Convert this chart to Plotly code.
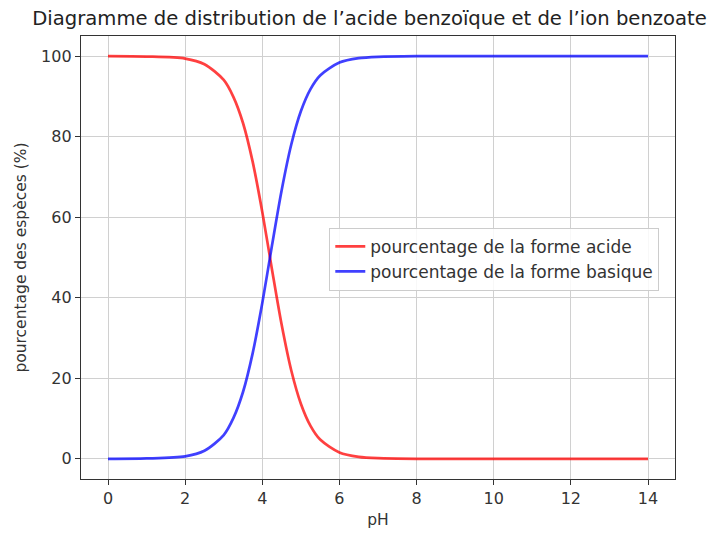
import plotly.graph_objects as go

ph = [0, 1, 2, 2.5, 3, 3.25, 3.5, 3.75, 4, 4.25, 4.5, 4.75, 5, 5.25, 5.5, 6, 6.5, 7, 8, 10, 12, 14]
acide = [100, 99.9, 99.4, 98.0, 94.1, 89.9, 83.4, 73.8, 61.3, 47.1, 33.4, 22.0, 13.7, 8.2, 4.8, 1.6, 0.5, 0.16, 0.0, 0.0, 0.0, 0.0]
basique = [0, 0.1, 0.6, 2.0, 5.9, 10.1, 16.6, 26.2, 38.7, 52.9, 66.6, 78.0, 86.3, 91.8, 95.2, 98.4, 99.5, 99.84, 100, 100, 100, 100]
x_ticks = [0, 2, 4, 6, 8, 10, 12, 14]
y_ticks = [0, 20, 40, 60, 80, 100]

fig = go.Figure()
fig.add_trace(go.Scatter(x=ph, y=acide, mode="lines", line=dict(color="rgba(255,0,0,0.75)", width=2.7, shape="spline", smoothing=0.8),
                         name="pourcentage de la forme acide"))
fig.add_trace(go.Scatter(x=ph, y=basique, mode="lines", line=dict(color="rgba(0,0,255,0.75)", width=2.7, shape="spline", smoothing=0.8),
                         name="pourcentage de la forme basique"))

font = "DejaVu Sans, sans-serif"
fig.update_layout(
    width=714, height=525,
    margin=dict(l=73, r=47, t=28, b=54, autoexpand=False),
    paper_bgcolor="white", plot_bgcolor="white",
    font=dict(family=font, size=15.5, color="#333"),
    title=dict(text="Diagramme de distribution de l’acide benzoïque et de l’ion benzoate",
               x=0.034, xanchor="left", xref="container", y=0.981, yanchor="middle",
               font=dict(size=19.6, color="#222")),
    showlegend=True,
    legend=dict(x=0.418, y=0.567, xanchor="left", yanchor="top",
                bordercolor="#ccc", borderwidth=1, bgcolor="rgba(255,255,255,0.85)",
                font=dict(size=17, color="#333"), tracegroupgap=0),
)
fig.update_xaxes(range=[-0.7, 14.7], tickvals=x_ticks, showgrid=True, gridcolor="#d0d0d0", gridwidth=1,
                 showline=True, linecolor="#333", linewidth=1.3, mirror=True, ticks="outside", ticklen=5,
                 tickcolor="#333", zeroline=False, tickfont=dict(size=16),
                 title=dict(text="pH", font=dict(size=15.5), standoff=6))
fig.update_yaxes(range=[-5, 105], tickvals=y_ticks, showgrid=True, gridcolor="#d0d0d0", gridwidth=1,
                 showline=True, linecolor="#333", linewidth=1.3, mirror=True, ticks="outside", ticklen=5,
                 tickcolor="#333", zeroline=False, tickfont=dict(size=16),
                 title=dict(text="pourcentage des espèces (%)", font=dict(size=15.5), standoff=10))

fig.write_html("out.html")
